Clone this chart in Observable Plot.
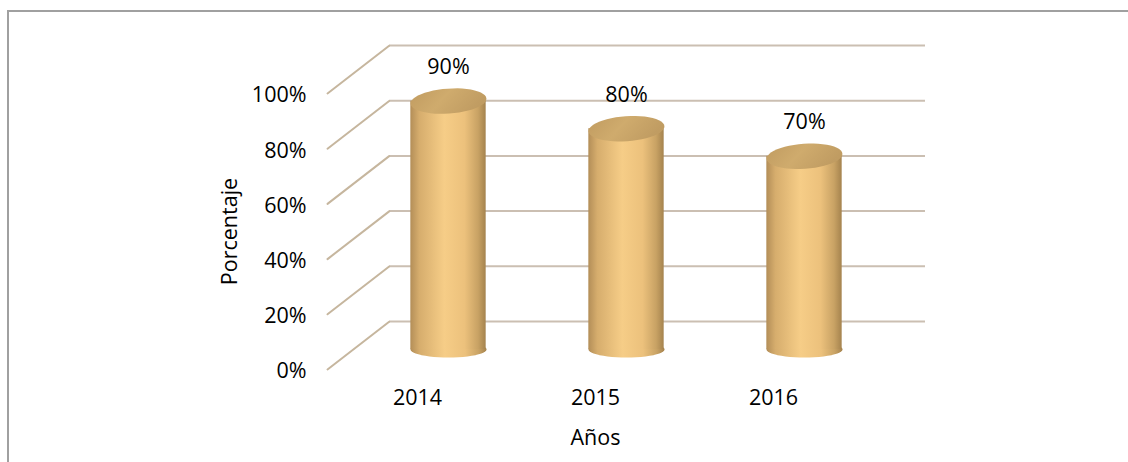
<!DOCTYPE html>
<html>
<head>
<meta charset="utf-8">
<script src="https://cdn.jsdelivr.net/npm/d3@7"></script>
<script src="https://cdn.jsdelivr.net/npm/@observablehq/plot@0.6"></script>
<style>
  html, body { margin: 0; padding: 0; background: #fff; }
  #wrap { position: relative; width: 1128px; height: 462px; overflow: hidden; }
  #border { position: absolute; left: 7px; top: 10px; width: 1200px; height: 500px;
            border-top: 2px solid #a0a0a0; border-left: 2px solid #a0a0a0; }
  #chart { position: absolute; left: 0; top: 0; }
</style>
</head>
<body>
<div id="wrap"><div id="border"></div><div id="chart"></div></div>
<script>
const years = ["2014", "2015", "2016"];
const values = [0.9, 0.8, 0.7];
const valueLabels = ["90%", "80%", "70%"];
const yTicks = [0, 0.2, 0.4, 0.6, 0.8, 1];
const yTickLabels = ["0%", "20%", "40%", "60%", "80%", "100%"];
const yTitle = "Porcentaje";
const xTitle = "Años";

const data = years.map((year, i) => ({year, value: values[i], label: valueLabels[i]}));

const W = 1128, H = 462;
const mL = 327, mR = 265, mT = 93, mB = 93;
const bw = (W - mL - mR) / years.length;
const cylW = 76;
const inset = (bw - cylW) / 2;
const depthX = 31, depthY = -20;
const FS = 21.5;

function ellipseSymbol(rx, ry, tiltDeg) {
  const t = tiltDeg * Math.PI / 180;
  return {
    draw(context) {
      const n = 48;
      for (let k = 0; k <= n; k++) {
        const a = (k / n) * 2 * Math.PI;
        const ex = rx * Math.cos(a), ey = ry * Math.sin(a);
        const px = ex * Math.cos(t) - ey * Math.sin(t);
        const py = ex * Math.sin(t) + ey * Math.cos(t);
        if (k === 0) context.moveTo(px, py); else context.lineTo(px, py);
      }
      context.closePath();
    }
  };
}
const topEllipse = ellipseSymbol(cylW / 2, 12.5, -4);
const bottomEllipse = ellipseSymbol(cylW / 2, 8, 0);

const lineShape = { draw(context, l) { context.moveTo(0, 0); context.lineTo(0, -l); } };

const defs = () => {
  const ns = "http://www.w3.org/2000/svg";
  const g = document.createElementNS(ns, "defs");
  g.innerHTML = `
    <linearGradient id="cylBody" x1="0" x2="1" y1="0" y2="0">
      <stop offset="0" stop-color="#b38e58"/>
      <stop offset="0.12" stop-color="#d6ad6d"/>
      <stop offset="0.45" stop-color="#f6cd87"/>
      <stop offset="0.72" stop-color="#ecc17c"/>
      <stop offset="0.9" stop-color="#c8a264"/>
      <stop offset="1" stop-color="#a5834e"/>
    </linearGradient>
    <linearGradient id="cylTop" x1="0" x2="1" y1="0" y2="0.3">
      <stop offset="0" stop-color="#c09b60"/>
      <stop offset="0.5" stop-color="#cfab6d"/>
      <stop offset="1" stop-color="#c09c62"/>
    </linearGradient>`;
  return g;
};

const chart = Plot.plot({
  width: W, height: H,
  marginLeft: mL, marginRight: mR, marginTop: mT, marginBottom: mB,
  style: {fontFamily: "'Open Sans', sans-serif", fontSize: FS + "px", color: "#000", background: "transparent"},
  x: {type: "band", domain: years, padding: 0, label: null},
  y: {domain: [0, 1], label: null},
  marks: [
    defs,
    Plot.ruleY(yTicks, {dx: 62, dy: -48, stroke: "#cbbfb2", strokeWidth: 2}),
    Plot.vector(yTicks, {y: d => d, frameAnchor: "left", anchor: "start", length: 78, rotate: 52.25,
                         shape: lineShape, stroke: "#c6b69e", strokeWidth: 2}),
    Plot.dot(data, {x: "year", y: d => 0, symbol: bottomEllipse, dx: depthX, dy: depthY, fill: "url(#cylBody)", stroke: "none"}),
    Plot.rectY(data, {x: "year", y: "value", insetLeft: inset, insetRight: inset, dx: depthX, dy: depthY, fill: "url(#cylBody)"}),
    Plot.dot(data, {x: "year", y: "value", symbol: topEllipse, dx: depthX, dy: depthY, fill: "url(#cylTop)", stroke: "none"}),
    Plot.text(data, {x: "year", y: "value", text: "label", dx: depthX, dy: -54, fill: "#000", fontSize: FS}),
    Plot.axisY(yTicks, {tickSize: 0, tickPadding: 21, dy: 2, tickFormat: (d, i) => yTickLabels[i], label: null, fontSize: FS}),
    Plot.axisX({tickSize: 0, tickPadding: 20, label: null, fontSize: FS}),
    Plot.text([yTitle], {frameAnchor: "left", textAnchor: "middle", lineAnchor: "middle", dx: -97, rotate: -90, fill: "#000", fontSize: FS}),
    Plot.text([xTitle], {frameAnchor: "bottom", textAnchor: "middle", lineAnchor: "middle", dy: 69, fill: "#000", fontSize: FS})
  ]
});
document.getElementById("chart").appendChild(chart);
</script>
</body>
</html>
